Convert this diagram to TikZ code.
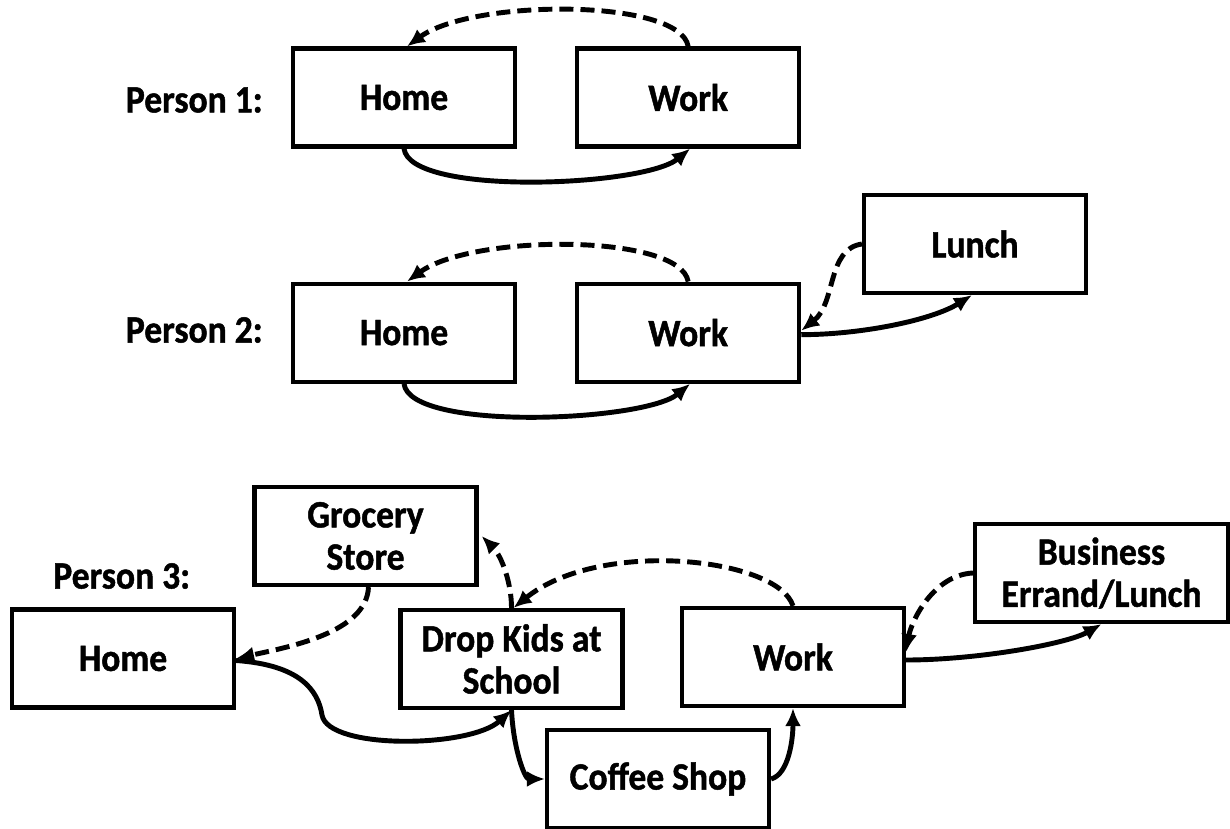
\documentclass[tikz,border=0pt]{standalone}
\usepackage{fontspec}
\setmainfont{Carlito}[FakeStretch=0.92, BoldFeatures={FakeBold=1.2}]
\usetikzlibrary{arrows.meta,positioning,calc}

\begin{document}
\begin{tikzpicture}[
  x=0.02cm, y=-0.02cm,
  node distance=2.66cm and 1.16cm,
  b/.style={draw, line width=2.4pt, align=center, minimum width=4.44cm, minimum height=1.96cm, inner sep=2pt, font=\fontsize{22}{24}\selectfont\bfseries},
  p/.style={inner sep=0pt, font=\fontsize{22}{24}\selectfont\bfseries},
  e/.style={-{Latex[length=3.6mm,width=3.2mm]}, line width=2.8pt},
  d/.style={e, dash pattern=on 8pt off 4pt}
]
\useasboundingbox (0,0) rectangle (1230,828);

\node[b] (home1) at (404,97.5) {Home};
\node[b, right=of home1] (work1) {Work};
\node[b, below=of home1] (home2) {Home};
\node[b, right=of home2] (work2) {Work};
\node[b] (lunch) at (975,244) {Lunch};

\node[b] (grocery) at (365.5,536) {Grocery\\Store};
\node[b] (home3) at (123,658.5) {Home};
\node[b] (drop) at (511.5,659) {Drop Kids at\\School};
\node[b] (work3) at (793,657) {Work};
\node[b] (coffee) at (658,779) {Coffee Shop};
\node[b, minimum width=5.06cm] (business) at (1101.5,573) {Business\\Errand/Lunch};

\node[p, anchor=east] (lab1) at (263,100) {Person 1:};
\node[p, anchor=east] (lab2) at (263,330) {Person 2:};
\node[p, anchor=west] (lab3) at (53,576) {Person 3:};

\draw[d] (work1.north) .. controls +(-8,-48) and +(66,-48) .. ($(home1.north)+(3,0)$);
\draw[e] (home1.south) .. controls +(6,48) and +(-46,38) .. ($(work1.south)+(2,0)$);

\draw[d] (work2.north) .. controls +(-8,-48) and +(66,-48) .. ($(home2.north)+(3,0)$);
\draw[e] (home2.south) .. controls +(6,48) and +(-46,38) .. ($(work2.south)+(2,0)$);
\draw[d] (lunch.west) .. controls +(-35,5) and +(35,-28) .. ($(work2.east)+(0,-2)$);
\draw[e] ($(work2.east)+(0,2)$) .. controls +(60,0) and +(-40,25) .. ($(lunch.south)+(-3,0)$);

\draw[d] ($(grocery.south)+(3,0)$) .. controls +(-2,45) and +(55,-12) .. (home3.east);
\draw[d] (drop.north) .. controls +(0,-25) and +(20,20) .. ($(grocery.east)+(3,0)$);
\draw[d] (work3.north) .. controls +(-15,-48) and +(87,-70) .. ($(drop.north)+(2,0)$);
\draw[e] ($(home3.east)+(0,2)$) .. controls (300,665) and (318,690) .. (322,715) .. controls (328,750) and (470,748) .. (drop.south);
\draw[e] (drop.south) .. controls +(2,40) and +(-20,0) .. (coffee.west);
\draw[e] (coffee.east) .. controls +(18,-5) and +(0,30) .. (work3.south);
\draw[d] (business.west) .. controls +(-40,2) and +(5,-30) .. ($(work3.east)+(0,-5)$);
\draw[e] ($(work3.east)+(0,3)$) .. controls +(70,0) and +(-35,20) .. (business.south);
\end{tikzpicture}
\end{document}
